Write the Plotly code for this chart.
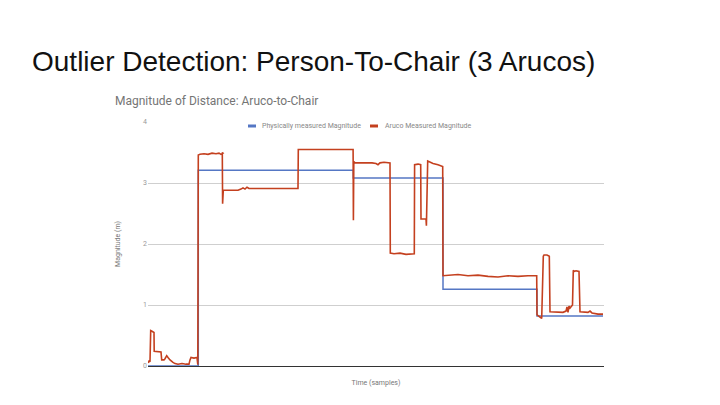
import plotly.graph_objects as go

# Sample index (time) and values for the Aruco measured magnitude (m)
aruco_t = [0, 1, 2, 2.7, 4, 5.3, 6, 6.2, 10, 13, 13.7, 16, 17, 18.7, 20, 22, 25, 27, 30, 34, 38, 41, 42, 43, 46, 49, 49.8,
           50.3, 52, 56, 60, 64, 68, 71, 73, 75, 74.3,
           74.6, 75.3, 78, 82, 86, 90, 93, 95, 97, 99, 101, 105, 115, 130, 140, 150,
           150.3, 155, 165, 175, 185, 195, 205.1,
           205.4, 205.8, 207, 212, 218, 224, 228, 230, 232, 236, 242,
           242.3, 246, 252, 258, 262, 266.3,
           266.6, 270, 272.7, 273, 278, 278.4, 279.7, 281, 285, 290, 294.7,
           295, 300, 310, 320, 330, 340, 350, 360, 370, 380, 388.7,
           389, 393.7, 395.3, 396, 399, 401.3, 402, 410, 415, 418, 419, 420, 421, 422, 424.5,
           425.3, 426, 428, 431, 432, 440, 442, 444, 450, 455]
aruco_v = [0.05, 0.08, 0.07, 0.58, 0.57, 0.55, 0.55, 0.24, 0.23, 0.23, 0.10, 0.10, 0.12, 0.17, 0.14, 0.10, 0.06, 0.04, 0.03, 0.04, 0.03, 0.03, 0.10, 0.14, 0.13, 0.14, 0.02,
           3.46, 3.47, 3.48, 3.47, 3.49, 3.48, 3.49, 3.47, 3.49, 3.50,
           2.66, 2.88, 2.88, 2.89, 2.88, 2.88, 2.90, 2.92, 2.90, 2.93, 2.91, 2.91, 2.91, 2.91, 2.91, 2.91,
           3.55, 3.55, 3.54, 3.55, 3.55, 3.54, 3.55,
           2.39, 3.35, 3.33, 3.33, 3.34, 3.33, 3.32, 3.30, 3.33, 3.34, 3.33,
           1.85, 1.84, 1.85, 1.83, 1.84, 1.84,
           3.30, 3.31, 3.30, 2.41, 2.41, 2.30, 3.36, 3.35, 3.32, 3.30, 3.27,
           1.48, 1.49, 1.50, 1.48, 1.49, 1.47, 1.46, 1.48, 1.47, 1.48, 1.48,
           0.84, 0.78, 1.80, 1.82, 1.82, 1.80, 0.89, 0.88, 0.88, 0.90, 0.97, 0.88, 0.98, 0.95, 1.00,
           1.57, 1.55, 1.56, 1.55, 0.89, 0.88, 0.90, 0.87, 0.85, 0.85]

# Physically measured magnitude (step function)
phys_t = [0, 50.3, 50.3, 205.3, 205.3, 295, 295, 389, 389, 455]
phys_v = [0, 0, 3.21, 3.21, 3.08, 3.08, 1.26, 1.26, 0.82, 0.82]

y_ticks = [0, 1, 2, 3, 4]
series_names = ["Physically measured Magnitude", "Aruco Measured Magnitude"]
series_colors = ["#5577c4", "#c4401f"]

W, H = 456, 244  # plot area size in px, used to place paper-relative text


def px(x):
    return (x - 148) / W


def py(y):
    return 1 + (122 - y) / H


fig = go.Figure()
fig.add_trace(go.Scatter(x=phys_t, y=phys_v, mode="lines", name=series_names[0],
                         line=dict(color=series_colors[0], width=1.5)))
fig.add_trace(go.Scatter(x=aruco_t, y=aruco_v, mode="lines", name=series_names[1],
                         line=dict(color=series_colors[1], width=1.6)))

annotations = [
    dict(text="Outlier Detection: Person-To-Chair (3 Arucos)", xref="paper", yref="paper",
         x=px(30), y=py(61), xanchor="left", yanchor="middle", showarrow=False,
         font=dict(family="Liberation Sans, Arial, sans-serif", size=28, color="#111")),
    dict(text="Magnitude of Distance: Aruco-to-Chair", xref="paper", yref="paper",
         x=px(113), y=py(101), xanchor="left", yanchor="middle", showarrow=False,
         font=dict(family="Roboto, Arial, sans-serif", size=12, color="#757575")),
]
# manual legend (short swatches like the original chart)
for name, color, sx, tx in zip(series_names, series_colors, [248, 370], [260, 383]):
    fig.add_shape(type="line", xref="paper", yref="paper", x0=px(sx), x1=px(sx + 8),
                  y0=py(126), y1=py(126), line=dict(color=color, width=3))
    annotations.append(dict(text=name, xref="paper", yref="paper", x=px(tx), y=py(126),
                            xanchor="left", yanchor="middle", showarrow=False,
                            font=dict(family="Roboto, Arial, sans-serif", size=7, color="#888")))

# body of the page has an 8px margin, so offset the margins by 8px
fig.update_layout(
    width=720, height=405,
    margin=dict(l=140, r=124, t=114, b=47),
    paper_bgcolor="white", plot_bgcolor="white",
    font=dict(family="Roboto, Arial, sans-serif", color="#888"),
    showlegend=False,
    annotations=annotations,
)
fig.update_xaxes(range=[0, 456], showticklabels=False, showgrid=False, zeroline=False,
                 showline=True, linecolor="#333", linewidth=1.2, ticks="",
                 title=dict(text="Time (samples)", font=dict(size=7, color="#777"), standoff=13))
fig.update_yaxes(range=[0, 4], tickvals=y_ticks, showgrid=True, gridcolor="#cfcfcf", gridwidth=1,
                 zeroline=False, ticks="", tickfont=dict(size=7, color="#999"),
                 title=dict(text="Magnitude (m)", font=dict(size=7, color="#777"), standoff=21))

fig.write_html("out.html")
